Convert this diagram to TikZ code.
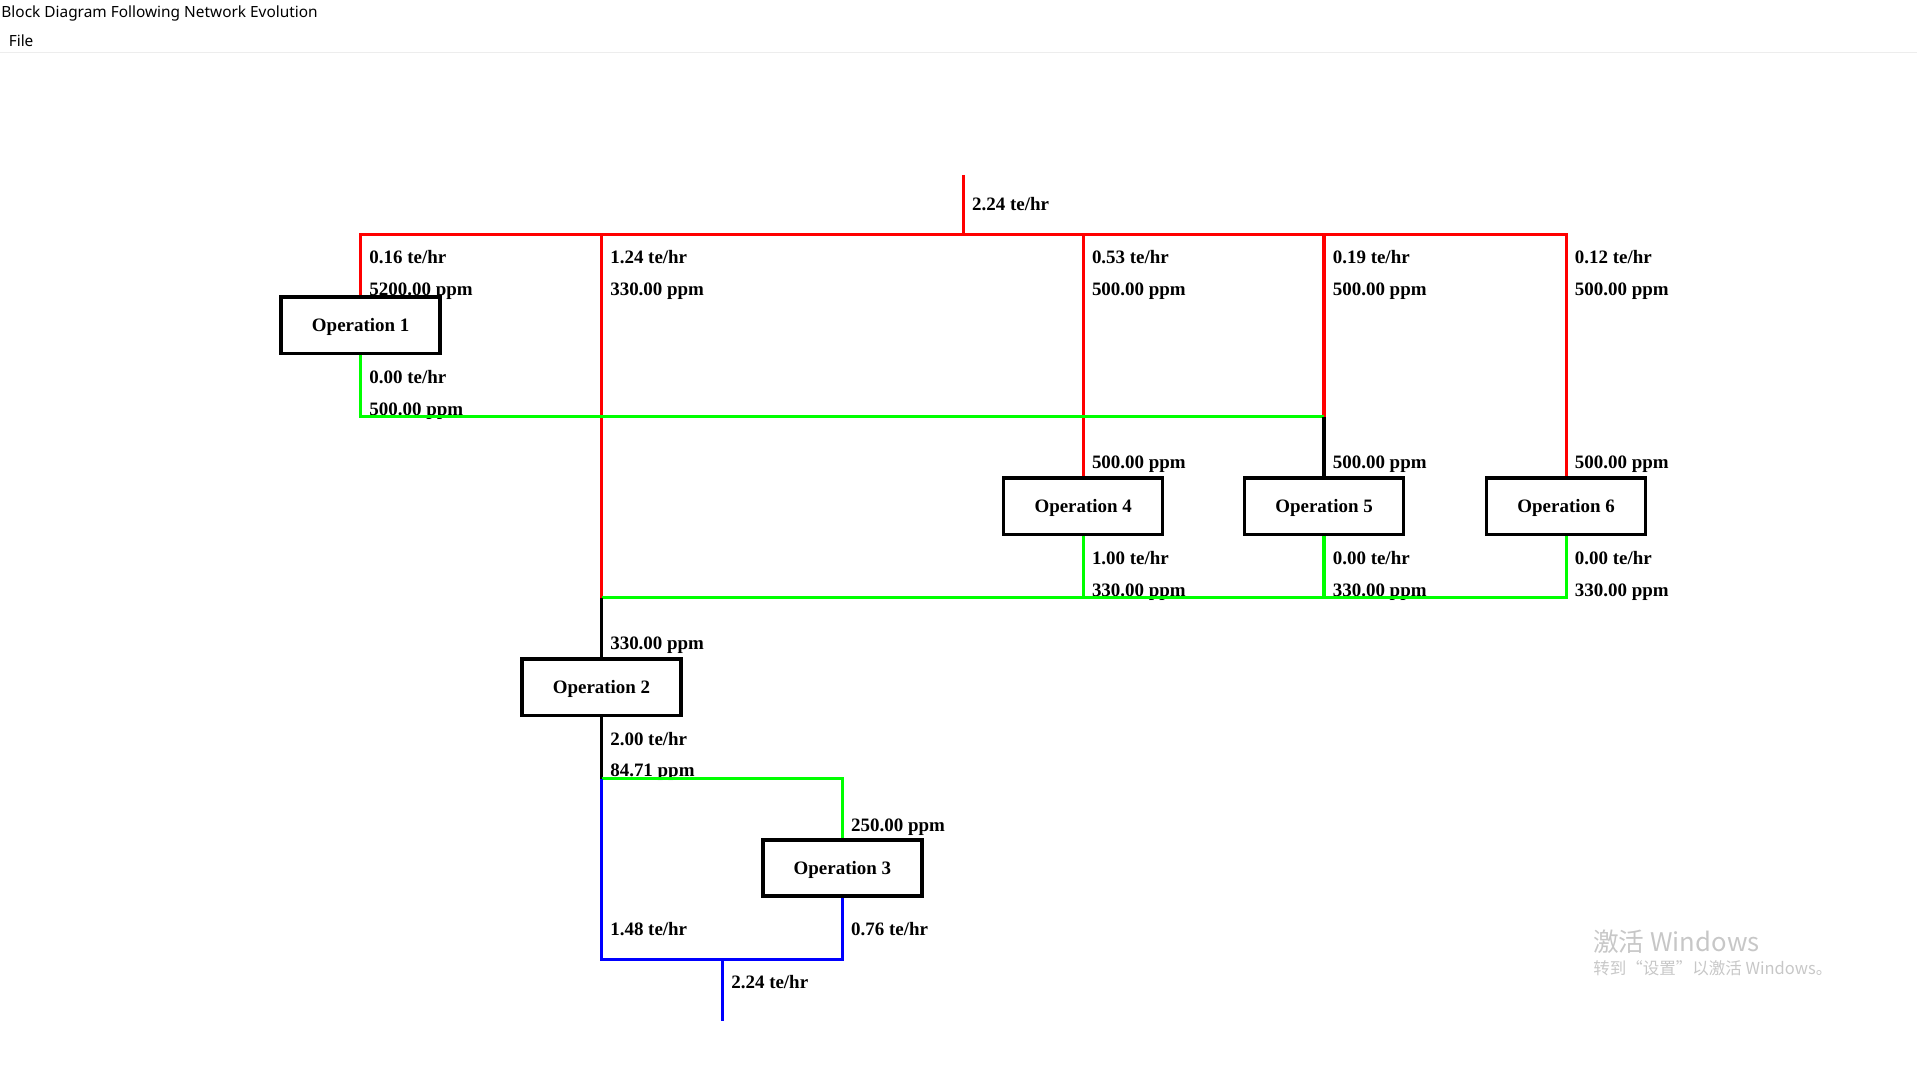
\documentclass[tikz,border=0pt]{standalone}
\usepackage{fontspec}
\setmainfont{Liberation Serif}
\newfontfamily\uifont{Noto Sans}
\newfontfamily\cjk{Noto Sans CJK SC}
\begin{document}
\begin{tikzpicture}[x=1pt,y=-1pt,
  val/.style={anchor=base west, inner sep=0pt, font=\fontsize{15.5}{18}\selectfont\bfseries},
  op/.style={draw, line width=2.8pt, fill=white, minimum width=130pt, minimum height=46pt, inner sep=0pt, text depth=0pt, font=\fontsize{15.5}{18}\selectfont\bfseries},
  fresh/.style={draw=red, line width=2.6pt},
  reuse/.style={draw={rgb,255:red,0;green,255;blue,0}, line width=2.6pt},
  waste/.style={draw=blue, line width=2.6pt},
  mix/.style={draw=black, line width=2.6pt}]
\useasboundingbox (0,0) rectangle (1568,878);
\node[anchor=west, inner sep=0pt, font=\uifont\fontsize{12.6}{15}\selectfont] (title) at (1,11) {Block Diagram Following Network Evolution};
\node[anchor=west, inner sep=0pt, font=\uifont\fontsize{12.6}{15}\selectfont] (file) at (7,33) {File};
\draw[black!7, line width=1.2pt] (0,43) -- (1568,43);
\node[val] (l0) at (795,172.5) {2.24 te/hr};
\node[val] (l1a) at (302,215.5) {0.16 te/hr};
\node[val] (l1b) at (302,241.5) {5200.00 ppm};
\node[val] (l2a) at (499,215.5) {1.24 te/hr};
\node[val] (l2b) at (499,241.5) {330.00 ppm};
\node[val] (l4a) at (893,215.5) {0.53 te/hr};
\node[val] (l4b) at (893,241.5) {500.00 ppm};
\node[val] (l5a) at (1090,215.5) {0.19 te/hr};
\node[val] (l5b) at (1090,241.5) {500.00 ppm};
\node[val] (l6a) at (1288,215.5) {0.12 te/hr};
\node[val] (l6b) at (1288,241.5) {500.00 ppm};
\node[val] (l1c) at (302,313.5) {0.00 te/hr};
\node[val] (l1d) at (302,339.5) {500.00 ppm};
\node[val] (l4c) at (893,383.5) {500.00 ppm};
\node[val] (l5c) at (1090,383.5) {500.00 ppm};
\node[val] (l6c) at (1288,383.5) {500.00 ppm};
\node[val] (l4d) at (893,461.5) {1.00 te/hr};
\node[val] (l4e) at (893,487.5) {330.00 ppm};
\node[val] (l5d) at (1090,461.5) {0.00 te/hr};
\node[val] (l5e) at (1090,487.5) {330.00 ppm};
\node[val] (l6d) at (1288,461.5) {0.00 te/hr};
\node[val] (l6e) at (1288,487.5) {330.00 ppm};
\node[val] (l2c) at (499,531.5) {330.00 ppm};
\node[val] (l2d) at (499,609.5) {2.00 te/hr};
\node[val] (l2e) at (499,635.5) {84.71 ppm};
\node[val] (l3a) at (696,680.5) {250.00 ppm};
\node[val] (l3b) at (499,765.5) {1.48 te/hr};
\node[val] (l3c) at (696,765.5) {0.76 te/hr};
\node[val] (lout) at (598,808.5) {2.24 te/hr};
\node[op] (op1) at (295,266) {Operation 1};
\node[op] (op2) at (492,562) {Operation 2};
\node[op] (op3) at (689,710) {Operation 3};
\node[op] (op4) at (886,414) {Operation 4};
\node[op] (op5) at (1083,414) {Operation 5};
\node[op] (op6) at (1281,414) {Operation 6};
\coordinate (fin) at (788,143);
\coordinate (fj) at (788,192);
\coordinate (h1) at (295,192);
\coordinate (h2) at (492,192);
\coordinate (h4) at (886,192);
\coordinate (h5) at (1083,192);
\coordinate (h6) at (1281,192);
\coordinate (m5) at (1083,341);
\coordinate (g2) at (492,489);
\coordinate (g6) at (1281,489);
\coordinate (s2) at (492,637);
\coordinate (bl) at (492,785);
\coordinate (br) at (689,785);
\coordinate (bo) at (591,785);
\coordinate (out) at (591,835);
\draw[fresh] (fin) -- (fj);
\draw[fresh] (op1.north) -- (h1) -- (h6) -- (op6.north);
\draw[fresh] (h2) -- (g2);
\draw[fresh] (h4) -- (op4.north);
\draw[fresh] (h5) -- (m5);
\draw[reuse] (op1.south) |- (m5);
\draw[mix] (m5) -- (op5.north);
\draw[reuse] (op4.south) -- (op4.south |- g2);
\draw[reuse] (op5.south) -- (op5.south |- g2);
\draw[reuse] (g2) -- (g6) -- (op6.south);
\draw[mix] (g2) -- (op2.north);
\draw[mix] (op2.south) -- (s2);
\draw[reuse] (s2) -| (op3.north);
\draw[waste] (s2) -- (bl) -- (br) -- (op3.south);
\draw[waste] (bo) -- (out);
\node[anchor=west, inner sep=0pt, text=black!22, font=\cjk\fontsize{21}{24}\selectfont] (wm1) at (1303,770) {激活 Windows};
\node[anchor=west, inner sep=0pt, text=black!22, font=\cjk\fontsize{13.5}{16}\selectfont] (wm2) at (1303,792) {转到“设置”以激活 Windows。};
\end{tikzpicture}
\end{document}
